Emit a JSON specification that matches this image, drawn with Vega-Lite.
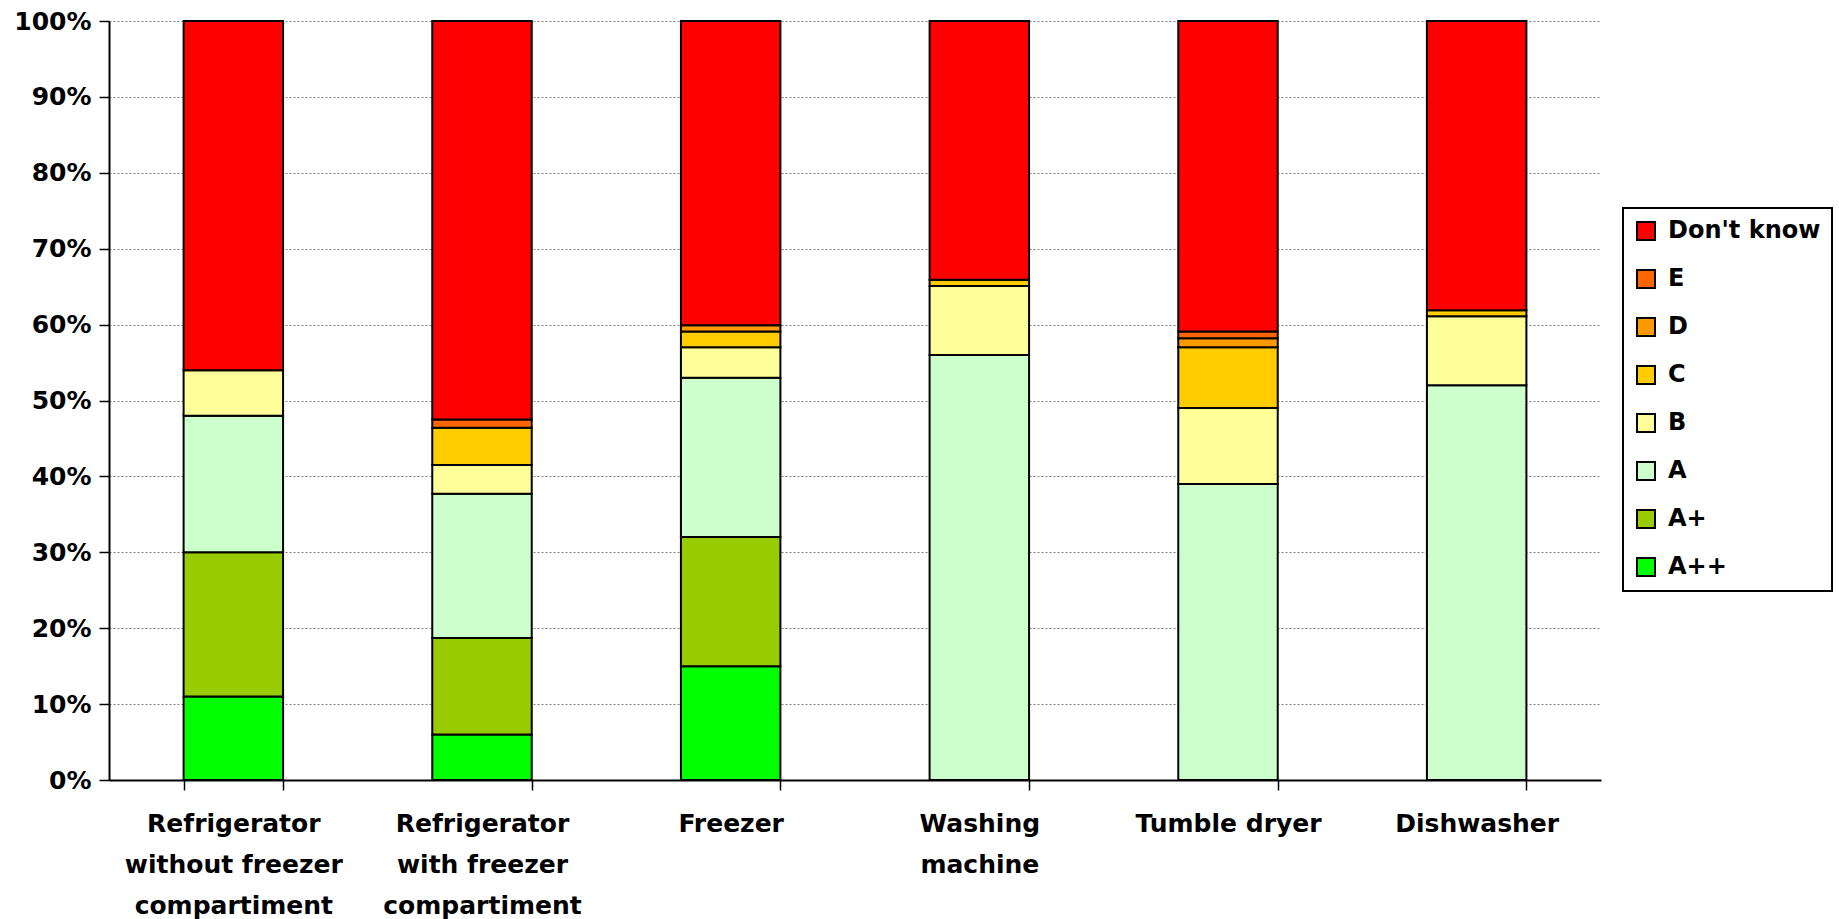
{
  "$schema": "https://vega.github.io/schema/vega-lite/v6.json",
  "width": 1492,
  "height": 759,
  "autosize": {"type": "none"},
  "padding": {"left": 109, "top": 21, "right": 238, "bottom": 139},
  "background": "white",
  "config": {
    "view": {"stroke": null},
    "font": "DejaVu Sans",
    "legend": {"strokeWidth": 2}
  },
  "data": {
    "values": [
      {"appliance": "Refrigerator without freezer compartiment", "rating": "A++", "rank": 1, "share": 11},
      {"appliance": "Refrigerator without freezer compartiment", "rating": "A+", "rank": 2, "share": 19},
      {"appliance": "Refrigerator without freezer compartiment", "rating": "A", "rank": 3, "share": 18},
      {"appliance": "Refrigerator without freezer compartiment", "rating": "B", "rank": 4, "share": 6},
      {"appliance": "Refrigerator without freezer compartiment", "rating": "Don't know", "rank": 8, "share": 46},
      {"appliance": "Refrigerator with freezer compartiment", "rating": "A++", "rank": 1, "share": 6},
      {"appliance": "Refrigerator with freezer compartiment", "rating": "A+", "rank": 2, "share": 12.7},
      {"appliance": "Refrigerator with freezer compartiment", "rating": "A", "rank": 3, "share": 19},
      {"appliance": "Refrigerator with freezer compartiment", "rating": "B", "rank": 4, "share": 3.8},
      {"appliance": "Refrigerator with freezer compartiment", "rating": "C", "rank": 5, "share": 4.9},
      {"appliance": "Refrigerator with freezer compartiment", "rating": "E", "rank": 7, "share": 1.1},
      {"appliance": "Refrigerator with freezer compartiment", "rating": "Don't know", "rank": 8, "share": 52.5},
      {"appliance": "Freezer", "rating": "A++", "rank": 1, "share": 15},
      {"appliance": "Freezer", "rating": "A+", "rank": 2, "share": 17},
      {"appliance": "Freezer", "rating": "A", "rank": 3, "share": 21},
      {"appliance": "Freezer", "rating": "B", "rank": 4, "share": 4},
      {"appliance": "Freezer", "rating": "C", "rank": 5, "share": 2.1},
      {"appliance": "Freezer", "rating": "D", "rank": 6, "share": 0.8},
      {"appliance": "Freezer", "rating": "Don't know", "rank": 8, "share": 40.1},
      {"appliance": "Washing machine", "rating": "A", "rank": 3, "share": 56},
      {"appliance": "Washing machine", "rating": "B", "rank": 4, "share": 9.1},
      {"appliance": "Washing machine", "rating": "C", "rank": 5, "share": 0.8},
      {"appliance": "Washing machine", "rating": "Don't know", "rank": 8, "share": 34.1},
      {"appliance": "Tumble dryer", "rating": "A", "rank": 3, "share": 39},
      {"appliance": "Tumble dryer", "rating": "B", "rank": 4, "share": 10},
      {"appliance": "Tumble dryer", "rating": "C", "rank": 5, "share": 8},
      {"appliance": "Tumble dryer", "rating": "D", "rank": 6, "share": 1.2},
      {"appliance": "Tumble dryer", "rating": "E", "rank": 7, "share": 0.9},
      {"appliance": "Tumble dryer", "rating": "Don't know", "rank": 8, "share": 40.9},
      {"appliance": "Dishwasher", "rating": "A", "rank": 3, "share": 52},
      {"appliance": "Dishwasher", "rating": "B", "rank": 4, "share": 9.1},
      {"appliance": "Dishwasher", "rating": "C", "rank": 5, "share": 0.8},
      {"appliance": "Dishwasher", "rating": "Don't know", "rank": 8, "share": 38.1}
    ]
  },
  "mark": {"type": "bar", "stroke": "black", "strokeWidth": 2},
  "encoding": {
    "x": {
      "field": "appliance",
      "type": "nominal",
      "sort": null,
      "scale": {"paddingInner": 0.6, "paddingOuter": 0.3},
      "axis": {
        "title": null,
        "labelAngle": 0,
        "tickBand": "extent",
        "tickSize": 10,
        "tickColor": "black",
        "tickWidth": 1.5,
        "domainColor": "black",
        "domainWidth": 2,
        "zindex": 1,
        "labelFont": "DejaVu Sans",
        "labelFontSize": 25,
        "labelFontWeight": "bold",
        "labelColor": "black",
        "labelLineHeight": 41,
        "labelPadding": 21,
        "labelLimit": 400,
        "labelExpr": "datum.value == 'Refrigerator without freezer compartiment' ? ['Refrigerator', 'without freezer', 'compartiment'] : datum.value == 'Refrigerator with freezer compartiment' ? ['Refrigerator', 'with freezer', 'compartiment'] : datum.value == 'Washing machine' ? ['Washing', 'machine'] : datum.label"
      }
    },
    "y": {
      "field": "share",
      "type": "quantitative",
      "stack": "normalize",
      "scale": {"domain": [0, 1], "nice": false},
      "axis": {
        "title": null,
        "values": [0, 0.1, 0.2, 0.3, 0.4, 0.5, 0.6, 0.7, 0.8, 0.9, 1],
        "format": ".0%",
        "grid": true,
        "gridColor": "#808080",
        "gridDash": [2, 2],
        "gridWidth": 1,
        "domainColor": "black",
        "domainWidth": 2,
        "tickColor": "black",
        "tickSize": 10,
        "tickWidth": 1.5,
        "labelFont": "DejaVu Sans",
        "labelFontSize": 25,
        "labelFontWeight": "bold",
        "labelColor": "black",
        "labelPadding": 8
      }
    },
    "color": {
      "field": "rating",
      "type": "nominal",
      "scale": {
        "domain": ["Don't know", "E", "D", "C", "B", "A", "A+", "A++"],
        "range": ["#FF0000", "#FF6600", "#FF9900", "#FFCC00", "#FFFF99", "#CCFFCC", "#99CC00", "#00FF00"]
      },
      "legend": {
        "title": null,
        "orient": "none",
        "legendX": 1514,
        "legendY": 187,
        "strokeColor": "black",
        "padding": 11,
        "symbolType": "square",
        "symbolSize": 324,
        "symbolStrokeColor": "black",
        "symbolStrokeWidth": 2,
        "symbolOpacity": 1,
        "labelFont": "DejaVu Sans",
        "labelFontSize": 24,
        "labelFontWeight": "bold",
        "labelColor": "black",
        "labelOffset": 10,
        "labelLimit": 300,
        "rowPadding": 22
      }
    },
    "order": {"field": "rank", "type": "quantitative", "sort": "ascending"}
  }
}
